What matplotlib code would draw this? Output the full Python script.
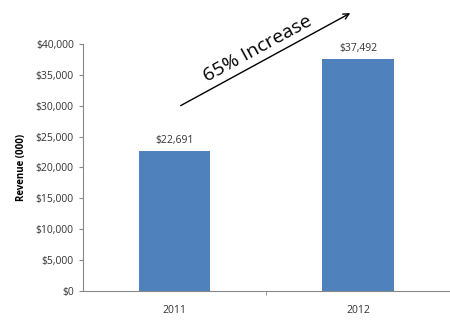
import numpy as np
import matplotlib.pyplot as plt

plt.rcParams['font.family'] = ['Open Sans', 'DejaVu Sans']

years = ['2011', '2012']
revenue = [22691, 37492]
yticks = [0, 5000, 10000, 15000, 20000, 25000, 30000, 35000, 40000]

fig = plt.figure(figsize=(4.5, 3.23), dpi=100)
ax = fig.add_axes([0.184, 0.099, 0.816, 0.765])

x = np.arange(len(years))
bars = ax.bar(x, revenue, width=0.39, color='#4F81BD')

for xi, v in zip(x, revenue):
    ax.text(xi, v + 800, '${:,}'.format(v), ha='center', va='bottom',
            fontsize=7.5, color='#333333')

ax.set_xlim(-0.5, 1.5)
ax.set_ylim(0, 40000)
ax.set_yticks(yticks)
ax.set_yticklabels(['${:,}'.format(t) for t in yticks])
ax.set_xticks(x)
ax.set_xticklabels(years)
ax.set_xticks([0.5], minor=True)
ax.tick_params(axis='both', labelsize=7.5, colors='#333333', length=3,
               color='#888888')
ax.tick_params(axis='x', which='major', length=0, pad=10)
ax.tick_params(axis='x', which='minor', length=3, color='#888888')
ax.set_ylabel('Revenue (000)', fontsize=7, fontweight='bold', labelpad=6)

for s in ['top', 'right']:
    ax.spines[s].set_visible(False)
for s in ['left', 'bottom']:
    ax.spines[s].set_color('#888888')

# growth arrow
ax.annotate('', xy=(0.97, 45200), xytext=(0.02, 29800),
            arrowprops=dict(arrowstyle='->', color='black', lw=1.0),
            annotation_clip=False)
ax.text(0.45, 39200, '65% Increase', rotation=28.5, ha='center', va='center',
        fontsize=14, color='black')

fig.savefig('out.png', dpi=100)
